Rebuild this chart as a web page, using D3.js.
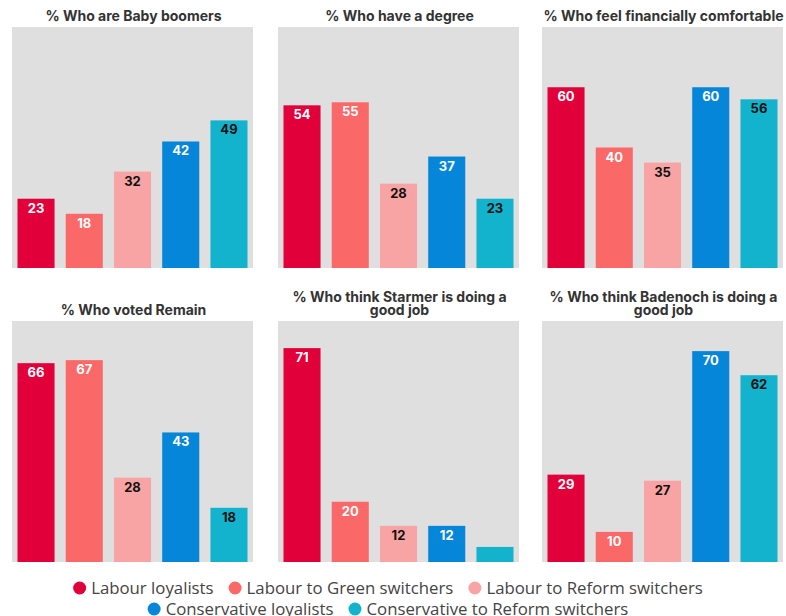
<!DOCTYPE html>
<html><head><meta charset="utf-8">
<script src="https://cdn.jsdelivr.net/npm/d3@7"></script>
<style>
html,body{margin:0;padding:0;background:#fff;}
svg{display:block;}
</style></head>
<body>
<svg id="chart" width="786" height="616"></svg>
<script>
const groups = ["Labour loyalists","Labour to Green switchers","Labour to Reform switchers","Conservative loyalists","Conservative to Reform switchers"];
const colors = ["#E2003A","#FA6868","#F9A4A4","#0686D9","#13B3CD"];
const labelColors = ["#ffffff","#ffffff","#111111","#ffffff","#111111"];
const titles = [
  ["% Who are Baby boomers"],
  ["% Who have a degree"],
  ["% Who feel financially comfortable"],
  ["% Who voted Remain"],
  ["% Who think Starmer is doing a","good job"],
  ["% Who think Badenoch is doing a","good job"]
];
const babyBoomers = [23,18,32,42,49];
const degree = [54,55,28,37,23];
const financiallyComfortable = [60,40,35,60,56];
const votedRemain = [66,67,28,43,18];
const starmerGoodJob = [71,20,12,12,5];
const badenochGoodJob = [29,10,27,70,62];
const panelValues = [babyBoomers,degree,financiallyComfortable,votedRemain,starmerGoodJob,badenochGoodJob];

const svg = d3.select("#chart");
const colX = [12,278,542];
const rowY = [27,321];
const pw = 241, ph = 241;
const titleFont = "Inter, 'Open Sans', sans-serif";

const x = d3.scaleBand().domain(d3.range(5)).range([0,pw]).paddingInner(0.232).paddingOuter(0.114);
const y = d3.scaleLinear().domain([0,80]).range([ph,0]);

panelValues.forEach((vals,i)=>{
  const cx = colX[i%3], cy = rowY[Math.floor(i/3)];
  const g = svg.append("g").attr("transform",`translate(${cx},${cy})`);
  g.append("rect").attr("width",pw).attr("height",ph).attr("fill","#DFDFDF");
  const t = titles[i];
  t.forEach((line,j)=>{
    g.append("text")
      .attr("x",pw/2+1)
      .attr("y",-6 - (t.length-1-j)*13.5)
      .attr("text-anchor","middle")
      .attr("font-family",titleFont)
      .attr("font-weight",700)
      .attr("font-size",14)
      .attr("fill","#333")
      .text(line);
  });
  g.selectAll("rect.bar").data(vals).join("rect")
    .attr("class","bar")
    .attr("x",(d,k)=>x(k))
    .attr("width",x.bandwidth())
    .attr("y",d=>y(d))
    .attr("height",d=>ph-y(d))
    .attr("fill",(d,k)=>colors[k]);
  g.selectAll("text.lbl").data(vals).join("text")
    .attr("class","lbl")
    .attr("x",(d,k)=>x(k)+x.bandwidth()/2)
    .attr("y",d=>y(d)+14)
    .attr("text-anchor","middle")
    .attr("font-family",titleFont)
    .attr("font-weight",700)
    .attr("font-size",13)
    .attr("fill",(d,k)=>labelColors[k])
    .text(d=> d>=8 ? d : "");
});

// legend
const legendRows = [[0,1,2],[3,4]];
const legendY = [588,609];
const lf = "'Open Sans', 'Noto Sans', sans-serif";
legendRows.forEach((row,ri)=>{
  const lg = svg.append("g");
  let xpos = 0;
  row.forEach((k,idx)=>{
    const it = lg.append("g").attr("transform",`translate(${xpos},0)`);
    it.append("circle").attr("cx",6.5).attr("cy",0).attr("r",6.5).attr("fill",colors[k]);
    const tx = it.append("text").attr("x",18).attr("y",0).attr("dy","0.35em")
      .attr("font-family",lf).attr("font-size",16.8).attr("fill","#444")
      .text(groups[k]);
    const w = tx.node().getComputedTextLength();
    xpos += 18 + w + 15;
  });
  const total = xpos - 15;
  lg.attr("transform",`translate(${388 - total/2},${legendY[ri]})`);
});
</script>
</body></html>
